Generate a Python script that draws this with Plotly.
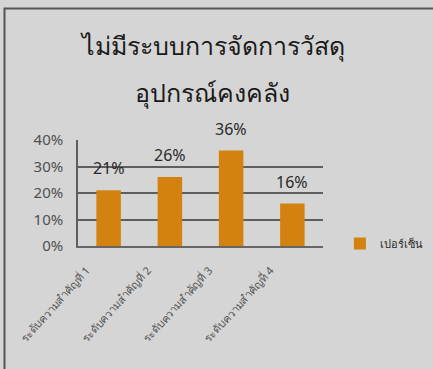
import plotly.graph_objects as go

categories = ["ระดับความสำคัญที่ 1", "ระดับความสำคัญที่ 2", "ระดับความสำคัญที่ 3", "ระดับความสำคัญที่ 4"]
values = [0.21, 0.26, 0.36, 0.16]
value_labels = ["21%", "26%", "36%", "16%"]
series_name = "เปอร์เซ็น"
title_lines = ["ไม่มีระบบการจัดการวัสดุ", "อุปกรณ์คงคลัง"]
y_ticks = [0, 0.1, 0.2, 0.3, 0.4]
y_tick_labels = ["0%", "10%", "20%", "30%", "40%"]

bg = "#d5d5d5"
fig = go.Figure()
fig.add_trace(go.Bar(x=categories, y=values, name=series_name,
                     marker=dict(color="#d4820f", line=dict(width=0)),
                     showlegend=True))

for c, v, t in zip(categories, values, value_labels):
    fig.add_annotation(x=c, y=v, text=t, showarrow=False, yshift=22,
                       font=dict(size=16, color="#2a2a2a", family="Noto Sans, DejaVu Sans, sans-serif"))

fig.add_annotation(xref="paper", yref="paper", x=0.55, y=1.896, yanchor="middle", text=title_lines[0],
                   showarrow=False, font=dict(size=25, color="#1a1a1a"))
fig.add_annotation(xref="paper", yref="paper", x=0.55, y=1.453, yanchor="middle", text=title_lines[1],
                   showarrow=False, font=dict(size=25, color="#1a1a1a"))

fig.add_shape(type="rect", xref="paper", yref="paper", x0=-0.30, x1=1.6, y0=-1.5, y1=2.24,
              line=dict(color="#555555", width=2), fillcolor="rgba(0,0,0,0)", layer="below")

fig.update_layout(
    width=433, height=369,
    margin=dict(l=78, r=110, t=140, b=123, autoexpand=False),
    paper_bgcolor=bg, plot_bgcolor=bg,
    bargap=0.6,
    font=dict(family="Noto Sans, DejaVu Sans, sans-serif", color="#444444"),
    legend=dict(xref="container", yref="container", x=0.785, y=0.34, xanchor="left", yanchor="middle",
                bgcolor="rgba(0,0,0,0)", font=dict(size=11, color="#2a2a2a")),
    xaxis=dict(tickangle=-48, tickfont=dict(size=11, color="#555555"),
               ticklabelshift=-22, ticklabelstandoff=12,
               showline=True, linecolor="#666666", linewidth=1.5, ticks=""),
    yaxis=dict(range=[0, 0.4], tickvals=y_ticks, ticktext=y_tick_labels,
               tickfont=dict(size=15, color="#505050"), ticklabelstandoff=10,
               showgrid=True, gridcolor="#5e5e5e", gridwidth=1.5,
               showline=True, linecolor="#5e5e5e", linewidth=1.5,
               zeroline=False, ticks=""),
)
fig.write_html("out.html")
